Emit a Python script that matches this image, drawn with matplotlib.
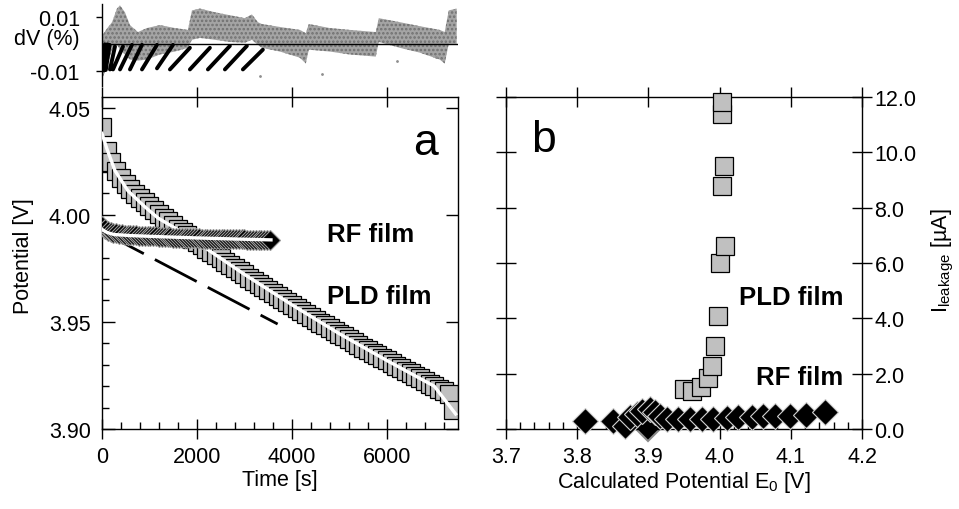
import matplotlib
matplotlib.use('Agg')
import matplotlib.pyplot as plt
from matplotlib.ticker import MultipleLocator, FormatStrFormatter, FixedLocator

plt.rcParams['font.family'] = ['Liberation Sans', 'DejaVu Sans']
plt.rcParams['mathtext.fontset'] = 'custom'
plt.rcParams['mathtext.rm'] = 'Liberation Sans'
plt.rcParams['mathtext.default'] = 'regular'
plt.rcParams['hatch.linewidth'] = 1.2

# ---- panel a: potential relaxation, PLD film (squares), every 100 s
pld_t = [0, 100, 200, 300, 400, 500, 600, 700, 800, 900,
         1000, 1100, 1200, 1300, 1400, 1500, 1600, 1700, 1800, 1900,
         2000, 2100, 2200, 2300, 2400, 2500, 2600, 2700, 2800, 2900,
         3000, 3100, 3200, 3300, 3400, 3500, 3600, 3700, 3800, 3900,
         4000, 4100, 4200, 4300, 4400, 4500, 4600, 4700, 4800, 4900,
         5000, 5100, 5200, 5300, 5400, 5500, 5600, 5700, 5800, 5900,
         6000, 6100, 6200, 6300, 6400, 6500, 6600, 6700, 6800, 6900,
         7000, 7100, 7200, 7300, 7400]
pld_v = [4.0412, 4.0300, 4.0245, 4.0203, 4.0170, 4.0143, 4.0119, 4.0097, 4.0077, 4.0058,
         4.0039, 4.0021, 4.0003, 3.9986, 3.9969, 3.9952, 3.9936, 3.9920, 3.9904, 3.9888,
         3.9872, 3.9857, 3.9842, 3.9827, 3.9812, 3.9797, 3.9782, 3.9767, 3.9752, 3.9737,
         3.9722, 3.9707, 3.9692, 3.9678, 3.9664, 3.9650, 3.9636, 3.9622, 3.9608, 3.9594,
         3.9580, 3.9566, 3.9552, 3.9538, 3.9524, 3.9510, 3.9497, 3.9484, 3.9471, 3.9458,
         3.9445, 3.9432, 3.9419, 3.9406, 3.9393, 3.9380, 3.9368, 3.9356, 3.9344, 3.9332,
         3.9320, 3.9308, 3.9296, 3.9284, 3.9272, 3.9260, 3.9248, 3.9236, 3.9224, 3.9212,
         3.9200, 3.9188, 3.9176, 3.9164, 3.9090]
pld_fit_t = [0, 100, 274, 547, 905, 1180, 1600, 2000, 3000, 4000, 5000, 6000, 7000, 7450]
pld_fit_v = [4.0380, 4.0310, 4.0206, 4.0112, 4.0037, 3.9985, 3.9930, 3.9872, 3.9722, 3.9580,
             3.9445, 3.9320, 3.9200, 3.9070]

# RF film (diamonds), every 60 s
rf_t = [0, 60, 120, 180, 240, 300, 360, 420, 480, 540,
        600, 660, 720, 780, 840, 900, 960, 1020, 1080, 1140,
        1200, 1260, 1320, 1380, 1440, 1500, 1560, 1620, 1680, 1740,
        1800, 1860, 1920, 1980, 2040, 2100, 2160, 2220, 2280, 2340,
        2400, 2460, 2520, 2580, 2640, 2700, 2760, 2820, 2880, 2940,
        3000, 3060, 3120, 3180, 3240, 3300, 3360, 3420, 3480, 3540]
rf_v = [3.9949, 3.9935, 3.9926, 3.9920, 3.9916, 3.9913, 3.9911, 3.9909, 3.9908, 3.9907,
        3.9906, 3.9905, 3.9904, 3.9903, 3.9903, 3.9902, 3.9901, 3.9900, 3.9899, 3.9899,
        3.9898, 3.9897, 3.9896, 3.9896, 3.9895, 3.9894, 3.9894, 3.9893, 3.9893, 3.9892,
        3.9892, 3.9891, 3.9891, 3.9890, 3.9890, 3.9889, 3.9889, 3.9888, 3.9888, 3.9888,
        3.9887, 3.9887, 3.9887, 3.9886, 3.9886, 3.9886, 3.9886, 3.9885, 3.9885, 3.9885,
        3.9885, 3.9884, 3.9884, 3.9884, 3.9884, 3.9884, 3.9883, 3.9883, 3.9883, 3.9883]
rf_fit_t = [0, 100, 250, 600, 1200, 2000, 2800, 3560]
rf_fit_v = [3.9932, 3.9918, 3.9908, 3.9903, 3.9898, 3.9892, 3.9887, 3.9883]

dash_t = [0, 3700]
dash_v = [3.9921, 3.9490]

# ---- top strip: dV (%) envelope of PLD residual (grey cloud)
dv_t = [0, 84, 211, 316, 379, 484, 589, 758, 947, 1221, 1537, 1810, 1895, 2063,
        2379, 2694, 3010, 3158, 3284, 3368, 3747, 4168, 4294, 4357, 4799, 5220,
        5768, 5831, 6273, 6694, 7115, 7220, 7305, 7473]
dv_hi = [0.0029, 0.0052, 0.0081, 0.0132, 0.0144, 0.0118, 0.0070, 0.0044, 0.0059, 0.0070,
         0.0059, 0.0052, 0.0125, 0.0132, 0.0118, 0.0107, 0.0096, 0.0110, 0.0081, 0.0074,
         0.0063, 0.0052, 0.0040, 0.0074, 0.0059, 0.0052, 0.0044, 0.0096, 0.0081, 0.0066,
         0.0052, 0.0044, 0.0125, 0.0132]
dv_lo = [-0.0132, -0.0096, -0.0022, -0.0004, -0.0022, -0.0040, -0.0059, -0.0063, -0.0059, -0.0040,
         -0.0029, -0.0015, 0.0015, 0.0022, 0.0015, 0.0007, 0.0004, 0.0015, -0.0004, -0.0015,
         -0.0029, -0.0052, -0.0074, -0.0022, -0.0029, -0.0040, -0.0048, 0.0007, -0.0015, -0.0033,
         -0.0059, -0.0074, 0.0000, 0.0000]
dv_out_t = [3326, 4631, 6210, 7030]
dv_out_v = [-0.0121, -0.0114, -0.0063, -0.0050]

# RF residual strokes (start/end of each rising run)
rf_dv_t0 = [0, 40, 80, 168, 232, 379, 589, 842, 1158, 1431, 1852, 2231, 2589, 2968]
rf_dv_t1 = [60, 110, 160, 274, 442, 632, 842, 1158, 1495, 1852, 2273, 2694, 3052, 3389]
rf_dv_v0 = [-0.0100, -0.0100, -0.0098, -0.0096, -0.0096, -0.0096, -0.0096, -0.0096, -0.0092,
            -0.0096, -0.0096, -0.0096, -0.0096, -0.0096]
rf_dv_v1 = [-0.0002, -0.0002, -0.0004, -0.0010, -0.0010, -0.0004, -0.0004, -0.0004, -0.0004,
            -0.0015, -0.0015, -0.0008, -0.0008, -0.0022]

# ---- panel b: leakage current vs calculated E0
pld_e0 = [3.950, 3.961, 3.974, 3.984, 3.989, 3.994, 3.998, 4.001, 4.008, 4.003, 4.006, 4.003, 4.004]
pld_i = [1.45, 1.36, 1.52, 1.85, 2.29, 2.99, 4.08, 6.01, 6.63, 8.77, 9.51, 11.38, 11.82]
rf_e0 = [3.811, 3.850, 3.867, 3.874, 3.884, 3.891, 3.902, 3.909, 3.916, 3.926, 3.942, 3.958,
         3.975, 3.991, 4.010, 4.026, 4.045, 4.061, 4.078, 4.099, 4.122, 4.148]
rf_i = [0.30, 0.30, 0.12, 0.43, 0.54, 0.66, 0.72, 0.61, 0.48, 0.36, 0.36, 0.36,
        0.36, 0.36, 0.39, 0.42, 0.42, 0.46, 0.46, 0.48, 0.51, 0.60]
rf_low_e0 = [3.899]
rf_low_i = [0.05]

W, H = 959, 510


def box(l, t, r, b):
    return [l / W, 1 - b / H, (r - l) / W, (b - t) / H]


fig = plt.figure(figsize=(W / 100, H / 100), dpi=100)
ax_dv = fig.add_axes(box(102, 5, 458, 87))
ax_a = fig.add_axes(box(102, 98, 458, 430))
ax_b = fig.add_axes(box(506, 98, 862, 430))

FS = 15.5
GREY = '#c0c0c0'

# top strip: dotted grey cloud
ax_dv.fill_between(dv_t, dv_lo, dv_hi, facecolor='#a4a4a4', edgecolor='#707070',
                   hatch='....', lw=0, zorder=1)
ax_dv.plot(dv_out_t, dv_out_v, '.', color='#8f8f8f', ms=2, zorder=1)
ax_dv.axhline(0, color='black', lw=1.0, zorder=2)
sx, sy = [], []
for t0, t1, v0, v1 in zip(rf_dv_t0, rf_dv_t1, rf_dv_v0, rf_dv_v1):
    sx += [t0, t1, None]
    sy += [v0, v1, None]
ax_dv.plot(sx, sy, color='black', lw=2.8, solid_capstyle='round', zorder=3)
ax_dv.set_xlim(0, 7500)
ax_dv.set_ylim(-0.0158, 0.0149)
for s in ['top', 'right', 'bottom']:
    ax_dv.spines[s].set_visible(False)
ax_dv.spines['left'].set_linewidth(1.0)
ax_dv.set_xticks([])
ax_dv.set_yticks([-0.01, 0.01])
ax_dv.set_yticklabels(['-0.01', '0.01'])
ax_dv.tick_params(axis='y', direction='out', length=4, width=1, labelsize=FS, pad=12)
ax_dv.patch.set_alpha(0)
fig.text(80 / W, 1 - 40 / H, 'dV (%)', ha='right', va='center', fontsize=FS)

# panel a
ax_a.plot(dash_t, dash_v, color='black', lw=2, dashes=(17, 4.5), zorder=1)
ax_a.plot(pld_t, pld_v, 's', ms=13, mfc=GREY, mec='black', mew=0.9, zorder=2)
ax_a.plot(pld_fit_t, pld_fit_v, color='white', lw=2.4, zorder=3)
ax_a.plot(rf_t, rf_v, 'D', ms=10, mfc='black', mec='#9a9a9a', mew=0.8, zorder=4)
ax_a.plot(rf_fit_t, rf_fit_v, color='white', lw=2.4, zorder=5)
ax_a.set_xlim(0, 7500)
ax_a.set_ylim(3.90, 4.055)
ax_a.xaxis.set_major_locator(FixedLocator([0, 2000, 4000, 6000]))
ax_a.xaxis.set_minor_locator(MultipleLocator(400))
ax_a.yaxis.set_major_locator(FixedLocator([3.90, 3.95, 4.00, 4.05]))
ax_a.yaxis.set_minor_locator(MultipleLocator(0.01))
ax_a.yaxis.set_major_formatter(FormatStrFormatter('%.2f'))
ax_a.tick_params(axis='x', which='major', direction='inout', length=14, width=1,
                 top=True, labelsize=FS, pad=5)
ax_a.tick_params(axis='x', which='minor', direction='in', length=5, width=1, top=False)
ax_a.tick_params(axis='y', which='major', direction='in', length=9, width=1,
                 right=True, labelsize=FS, pad=8)
ax_a.tick_params(axis='y', which='minor', direction='in', length=5, width=1, right=False)
ax_a.set_xlabel('Time [s]', fontsize=FS, labelpad=2)
ax_a.text(0.91, 0.864, 'a', transform=ax_a.transAxes, ha='center', va='center', fontsize=32)
ax_a.text(0.632, 0.587, 'RF film', transform=ax_a.transAxes, ha='left', va='center',
          fontsize=18.5, fontweight='bold')
ax_a.text(0.632, 0.40, 'PLD film', transform=ax_a.transAxes, ha='left', va='center',
          fontsize=18.5, fontweight='bold')
fig.text(23 / W, 1 - 256 / H, 'Potential [V]', rotation=90, ha='center', va='center', fontsize=FS)

# panel b
ax_b.plot(rf_low_e0, rf_low_i, 'D', ms=13, mfc='black', mec='#8a8a8a', mew=1.5, zorder=2,
          clip_on=False)
ax_b.plot(rf_e0, rf_i, 'D', ms=13, mfc='black', mec='#d0d0d0', mew=0.8, zorder=3, clip_on=False)
ax_b.plot(pld_e0, pld_i, 's', ms=13.5, mfc=GREY, mec='black', mew=0.9, zorder=4, clip_on=False)
ax_b.set_xlim(3.7, 4.2)
ax_b.set_ylim(0, 12)
ax_b.xaxis.set_major_locator(MultipleLocator(0.1))
ax_b.xaxis.set_minor_locator(MultipleLocator(0.02))
ax_b.xaxis.set_major_formatter(FormatStrFormatter('%.1f'))
ax_b.yaxis.set_major_locator(MultipleLocator(2))
ax_b.yaxis.set_major_formatter(FormatStrFormatter('%.1f'))
ax_b.yaxis.tick_right()
ax_b.tick_params(axis='x', which='major', direction='inout', length=14, width=1,
                 top=True, labelsize=FS, pad=5)
ax_b.tick_params(axis='x', which='minor', direction='in', length=5, width=1, top=False)
ax_b.tick_params(axis='y', which='major', direction='inout', length=14, width=1,
                 left=True, right=True, labelleft=False, labelright=True, labelsize=FS, pad=2)
ax_b.set_xlabel('Calculated Potential E$_0$ [V]', fontsize=FS, labelpad=2)
ax_b.text(0.104, 0.873, 'b', transform=ax_b.transAxes, ha='center', va='center', fontsize=32)
ax_b.text(0.947, 0.398, 'PLD film', transform=ax_b.transAxes, ha='right', va='center',
          fontsize=18.5, fontweight='bold')
ax_b.text(0.947, 0.157, 'RF film', transform=ax_b.transAxes, ha='right', va='center',
          fontsize=18.5, fontweight='bold')
fig.text(943 / W, 1 - 261 / H, 'I$_{leakage}$ [µA]', rotation=90, ha='center', va='center',
         fontsize=FS)

for ax in (ax_a, ax_b):
    for s in ax.spines.values():
        s.set_linewidth(1.0)

fig.savefig('out.png', dpi=100)
